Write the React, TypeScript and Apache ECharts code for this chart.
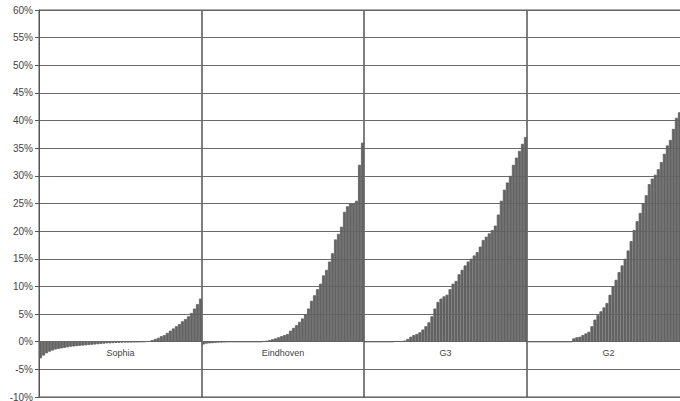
import React, { useEffect, useRef } from "react";
import * as echarts from "echarts";

const panelNames = ["Sophia", "Eindhoven", "G3", "G2"];

const sophia = [
  -3.0, -2.5, -2.1, -1.8, -1.6, -1.4, -1.3, -1.2, -1.1, -1.0,
  -0.9, -0.85, -0.8, -0.75, -0.7, -0.65, -0.6, -0.55, -0.5, -0.45,
  -0.4, -0.35, -0.3, -0.3, -0.25, -0.2, -0.2, -0.15, -0.12, -0.1,
  -0.08, -0.05, -0.03, 0, 0, 0.05, 0.1, 0.3, 0.5, 0.7,
  1.0, 1.2, 1.6, 2.0, 2.4, 2.8, 3.2, 3.7, 4.1, 4.6,
  5.2, 6.0, 6.8, 7.8,
];

const eindhoven = [
  -0.5, -0.35, -0.3, -0.25, -0.2, -0.15, -0.1, -0.05, 0, 0,
  0, 0, 0, 0, 0, 0, 0, 0, 0, 0,
  0.05, 0.15, 0.3, 0.45, 0.6, 0.8, 1.0, 1.2, 1.4, 2.0,
  2.5, 3.0, 3.6, 4.2, 5.0, 6.0, 7.4, 8.4, 9.5, 10.5,
  12.0, 13.0, 14.5, 16.0, 18.5, 19.5, 20.8, 23.5, 24.5, 25.0,
  25.0, 25.5, 32.0, 36.0,
];

const g3 = [
  0, 0, 0, 0, 0, 0, 0, 0, 0, 0,
  0.1, 0.1, 0.1, 0.2, 0.5, 0.9, 1.2, 1.4, 1.7, 2.2,
  2.8, 3.5, 4.6, 6.0, 7.2, 7.8, 8.2, 8.5, 9.5, 10.5,
  11.0, 12.2, 13.0, 13.8, 14.5, 15.0, 15.6, 16.2, 17.2, 18.4,
  19.0, 19.6, 20.2, 21.0, 23.0, 25.5, 27.5, 28.8, 30.0, 32.0,
  33.3, 34.5, 35.8, 37.0,
];

const g2 = [
  0, 0, 0, 0, 0, 0, 0, 0, 0, 0,
  0, 0, 0, 0, 0, 0.6, 0.8, 0.9, 1.2, 1.5,
  1.8, 2.8, 4.0, 4.8, 5.5, 6.2, 7.0, 8.5, 10.0, 11.2,
  12.6, 13.8, 15.0, 16.5, 18.2, 20.2, 21.8, 23.3, 25.0, 26.5,
  28.5, 29.5, 30.2, 31.2, 32.5, 34.0, 35.5, 36.5, 38.5, 40.5,
  41.5, 42.5, 43.5, 44.5,
];

const panelValues = [sophia, eindhoven, g3, g2];

const yMin = -10;
const yMax = 60;
const yStep = 5;

export default function App() {
  const ref = useRef<HTMLDivElement>(null);

  useEffect(() => {
    if (!ref.current) return;
    const chart = echarts.init(ref.current, undefined, { renderer: "svg" });
    const lefts = [39, 202, 364, 527];
    const widths = [163, 162, 163, 163];
    const gridTop = 10;
    const gridHeight = 387;
    // distance from the bottom of the plot to the 0% line
    const zeroOffset = (gridHeight * (0 - yMin)) / (yMax - yMin);
    const font = "Liberation Sans, Arial, sans-serif";

    const option: any = {
      animation: false,
      backgroundColor: "#ffffff",
      grid: panelNames.map((_, k) => ({
        left: lefts[k],
        top: gridTop,
        width: widths[k],
        height: gridHeight,
        show: true,
        borderColor: "#555555",
        borderWidth: 1,
        backgroundColor: "transparent",
        containLabel: false,
        outerBoundsMode: "none",
      })),
      xAxis: panelNames.map((name, k) => ({
        gridIndex: k,
        type: "category",
        position: "bottom",
        offset: -zeroOffset,
        data: panelValues[k].map((_, i) => String(i + 1)),
        axisLine: { show: true, onZero: false, lineStyle: { color: "#6a6a6a", width: 1.2 } },
        axisTick: { show: false },
        axisLabel: { show: false },
        splitLine: { show: false },
        name,
        nameLocation: "middle",
        nameGap: 7,
        nameTextStyle: { fontSize: 9, color: "#444444", fontFamily: font },
      })),
      yAxis: panelNames.map((_, k) => ({
        gridIndex: k,
        type: "value",
        min: yMin,
        max: yMax,
        interval: yStep,
        axisLine: { show: k === 0, lineStyle: { color: "#555555", width: 1 } },
        axisTick: {
          show: k === 0,
          length: 4,
          lineStyle: { color: "#555555" },
        },
        axisLabel: {
          show: k === 0,
          formatter: "{value}%",
          fontSize: 10,
          color: "#444444",
          margin: 6,
          fontFamily: font,
        },
        splitLine: {
          show: true,
          lineStyle: { color: "#6a6a6a", width: 1.2 },
        },
      })),
      series: panelValues.map((vals, k) => ({
        type: "bar",
        xAxisIndex: k,
        yAxisIndex: k,
        data: vals,
        barCategoryGap: "0%",
        itemStyle: { color: "#626262", borderColor: "#626262", borderWidth: 0.8 },
      })),
    };

    chart.setOption(option);
    return () => chart.dispose();
  }, []);

  return (
    <div
      ref={ref}
      style={{
        position: "fixed",
        left: 0,
        top: 0,
        width: 680,
        height: 401,
        background: "#fff",
      }}
    />
  );
}
